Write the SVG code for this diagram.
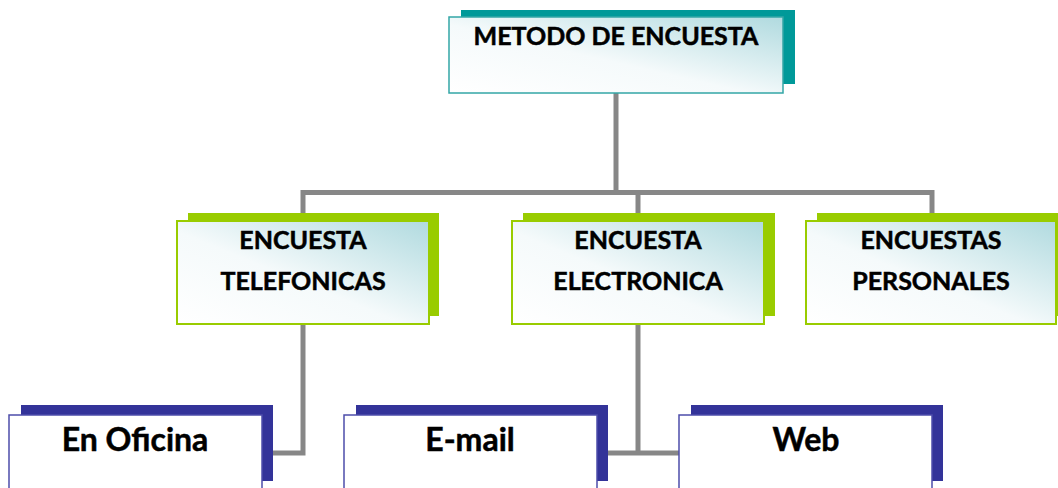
<svg xmlns="http://www.w3.org/2000/svg" width="1058" height="488" viewBox="0 0 1058 488">
<defs>
<linearGradient id="g" x1="0" y1="1" x2="1" y2="0">
<stop offset="0" stop-color="#ffffff"/>
<stop offset="0.45" stop-color="#f5fafb"/>
<stop offset="1" stop-color="#b0dadf"/>
</linearGradient>
</defs>
<style>
.con{stroke:#878787;stroke-width:5;fill:none}
.t{font-family:Lato,"Liberation Sans",sans-serif;font-weight:bold;fill:#000;stroke:#000;stroke-width:0.5;text-anchor:middle}
.s1{font-size:25px}
.s2{font-size:25px}
.s3{font-size:32px}
.shT{fill:#009999}
.frT{fill:url(#g);stroke:#33a6a6;stroke-width:1.5}
.shG{fill:#99cc00}
.frG{fill:url(#g);stroke:#99cc00;stroke-width:2}
.shB{fill:#333399}
.frB{fill:#ffffff;stroke:#4d4daa;stroke-width:1.5}
</style>
<g id="connectors">
<line class="con" x1="616" y1="93" x2="616" y2="193"/>
<polyline class="con" points="303,221 303,192.5 932,192.5 932,221"/>
<line class="con" x1="638" y1="192" x2="638" y2="221"/>
<polyline class="con" points="303,324 303,453 272,453"/>
<line class="con" x1="638" y1="324" x2="638" y2="453"/>
<line class="con" x1="607" y1="453" x2="680" y2="453"/>
</g>
<g id="node-metodo">
<rect class="shT" x="461" y="10" width="334" height="74"/>
<rect class="frT" x="449" y="17" width="334" height="76"/>
<text class="t s1" x="616" y="45">METODO DE ENCUESTA</text>
</g>
<g id="node-telefonicas">
<rect class="shG" x="188" y="213" width="251" height="103"/>
<rect class="frG" x="177" y="221" width="252" height="103"/>
<text class="t s2" x="303" y="249">ENCUESTA</text>
<text class="t s2" x="303" y="290">TELEFONICAS</text>
</g>
<g id="node-electronica">
<rect class="shG" x="523" y="213" width="252" height="103"/>
<rect class="frG" x="512" y="221" width="252" height="103"/>
<text class="t s2" x="638" y="249">ENCUESTA</text>
<text class="t s2" x="638" y="290">ELECTRONICA</text>
</g>
<g id="node-personales">
<rect class="shG" x="817" y="213" width="252" height="103"/>
<rect class="frG" x="806" y="221" width="250" height="103"/>
<text class="t s2" x="931" y="249">ENCUESTAS</text>
<text class="t s2" x="931" y="290">PERSONALES</text>
</g>
<g id="node-oficina">
<rect class="shB" x="21" y="405" width="252" height="76"/>
<rect class="frB" x="9" y="415" width="253" height="80"/>
<text class="t s3" x="135" y="451">En Oficina</text>
</g>
<g id="node-email">
<rect class="shB" x="356" y="405" width="252" height="76"/>
<rect class="frB" x="344" y="415" width="253" height="80"/>
<text class="t s3" x="470" y="451">E-mail</text>
</g>
<g id="node-web">
<rect class="shB" x="691" y="405" width="252" height="76"/>
<rect class="frB" x="679" y="415" width="253" height="80"/>
<text class="t s3" x="806" y="451">Web</text>
</g>
</svg>
